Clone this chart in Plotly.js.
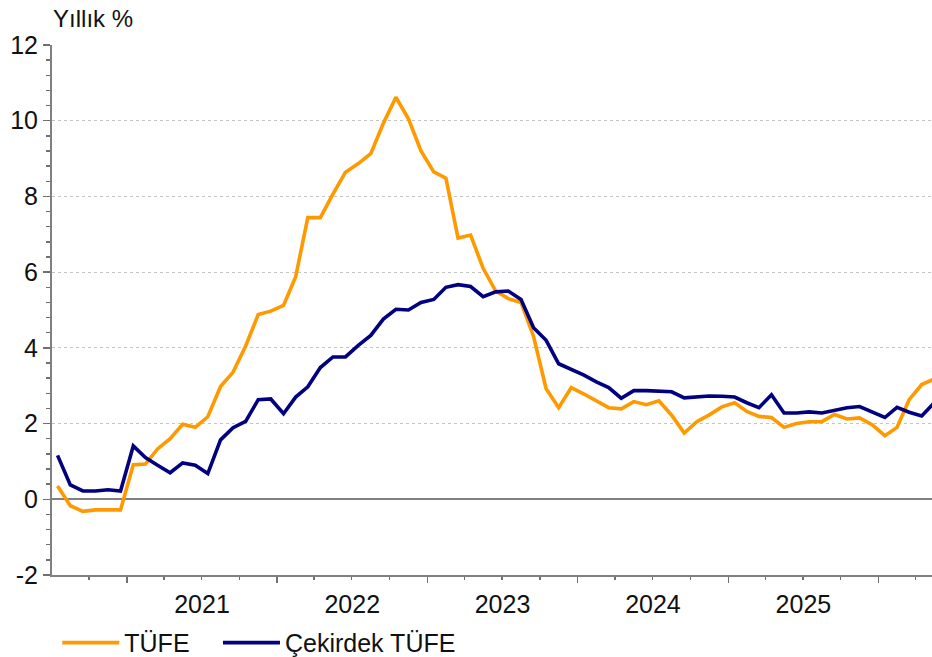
<!DOCTYPE html>
<html>
<head>
<meta charset="utf-8">
<script src="https://cdn.plot.ly/plotly-3.0.1.min.js"></script>
<style>html,body{margin:0;padding:0;background:#fff;}#chart{width:932px;height:657px;}</style>
</head>
<body>
<div id="chart"></div>
<script>
// Monthly observations, Jul 2020 - May 2026
const months = [
 '2020-07','2020-08','2020-09','2020-10','2020-11','2020-12',
 '2021-01','2021-02','2021-03','2021-04','2021-05','2021-06','2021-07','2021-08','2021-09','2021-10','2021-11','2021-12',
 '2022-01','2022-02','2022-03','2022-04','2022-05','2022-06','2022-07','2022-08','2022-09','2022-10','2022-11','2022-12',
 '2023-01','2023-02','2023-03','2023-04','2023-05','2023-06','2023-07','2023-08','2023-09','2023-10','2023-11','2023-12',
 '2024-01','2024-02','2024-03','2024-04','2024-05','2024-06','2024-07','2024-08','2024-09','2024-10','2024-11','2024-12',
 '2025-01','2025-02','2025-03','2025-04','2025-05','2025-06','2025-07','2025-08','2025-09','2025-10','2025-11','2025-12',
 '2026-01','2026-02','2026-03','2026-04','2026-05'
];
const tufe = [
 0.35,-0.17,-0.32,-0.28,-0.28,-0.28,
 0.91,0.93,1.33,1.60,1.98,1.90,2.18,2.98,3.36,4.05,4.88,4.97,
 5.12,5.88,7.44,7.44,8.06,8.64,8.86,9.13,9.93,10.62,10.05,9.20,
 8.65,8.48,6.90,6.98,6.10,5.50,5.30,5.20,4.30,2.92,2.42,2.95,
 2.78,2.60,2.42,2.39,2.58,2.50,2.60,2.22,1.75,2.05,2.23,2.44,
 2.55,2.32,2.19,2.16,1.90,2.00,2.05,2.05,2.24,2.12,2.15,1.97,
 1.68,1.90,2.63,3.03,3.18
];
const cekirdek = [
 1.16,0.38,0.22,0.22,0.25,0.22,
 1.41,1.10,0.90,0.70,0.96,0.90,0.68,1.57,1.89,2.06,2.63,2.65,
 2.26,2.70,2.97,3.48,3.76,3.76,4.06,4.33,4.76,5.02,5.00,5.20,
 5.28,5.60,5.67,5.62,5.35,5.48,5.50,5.28,4.53,4.20,3.58,3.43,
 3.28,3.10,2.95,2.67,2.87,2.87,2.85,2.84,2.68,2.70,2.73,2.72,
 2.70,2.55,2.42,2.76,2.28,2.28,2.31,2.28,2.35,2.42,2.45,2.30,
 2.16,2.43,2.30,2.20,2.55
];
const seriesNames = ['TÜFE', 'Çekirdek TÜFE'];
const yTicks = [-2, 0, 2, 4, 6, 8, 10, 12];

const traces = [
 {x: months, y: tufe, name: seriesNames[0], type: 'scatter', mode: 'lines',
  xperiod: 'M1', xperiodalignment: 'middle', legend: 'legend',
  line: {color: '#FF9900', width: 3.6}},
 {x: months, y: cekirdek, name: seriesNames[1], type: 'scatter', mode: 'lines',
  xperiod: 'M1', xperiodalignment: 'middle', legend: 'legend2',
  line: {color: '#000080', width: 3.6}}
];

const legendBase = {orientation: 'h', xanchor: 'left', y: -0.128, yanchor: 'middle',
  font: {size: 25, color: '#111'}, itemwidth: 57, bgcolor: 'rgba(0,0,0,0)'};

const layout = {
 width: 932, height: 657,
 margin: {l: 52, r: 0, t: 45, b: 82, autoexpand: false},
 paper_bgcolor: '#fff', plot_bgcolor: '#fff',
 font: {family: 'Liberation Sans, Arial, sans-serif', size: 25, color: '#111'},
 title: {text: 'Yıllık %', xref: 'container', yref: 'container', x: 0.057, xanchor: 'left',
         y: 0.971, yanchor: 'middle', font: {size: 24, color: '#111'}},
 showlegend: true,
 legend: Object.assign({}, legendBase, {x: 0.006}),
 legend2: Object.assign({}, legendBase, {x: 0.1886}),
 xaxis: {
  type: 'date', range: ['2020-07-03', '2026-05-11'],
  dtick: 'M12', tick0: '2021-01-01', tickformat: '%Y', ticklabelmode: 'period',
  ticks: 'outside', ticklen: 6, tickwidth: 1.5, tickcolor: '#707070',
  showline: true, linecolor: '#808080', linewidth: 2,
  showgrid: false, zeroline: false,
  minor: {dtick: 'M3', tick0: '2021-01-01', ticks: 'outside', ticklen: 3, tickwidth: 1.5, tickcolor: '#707070', showgrid: false},
  tickfont: {size: 25, color: '#111'}, fixedrange: true
 },
 yaxis: {
  range: [-2, 12], tickmode: 'array', tickvals: yTicks, ticktext: yTicks.map(String),
  ticks: 'outside', ticklen: 7, tickwidth: 1.5, tickcolor: '#707070',
  showline: true, linecolor: '#808080', linewidth: 2,
  showgrid: true, gridcolor: '#c4c4c4', gridwidth: 1, griddash: 'dot',
  zeroline: true, zerolinecolor: '#808080', zerolinewidth: 2,
  minor: {dtick: 0.4, tick0: 0, ticks: 'outside', ticklen: 4, tickwidth: 1.5, tickcolor: '#707070', showgrid: false},
  tickfont: {size: 25, color: '#111'}, fixedrange: true
 }
};

Plotly.newPlot('chart', traces, layout, {displayModeBar: false, staticPlot: true});
</script>
</body>
</html>
